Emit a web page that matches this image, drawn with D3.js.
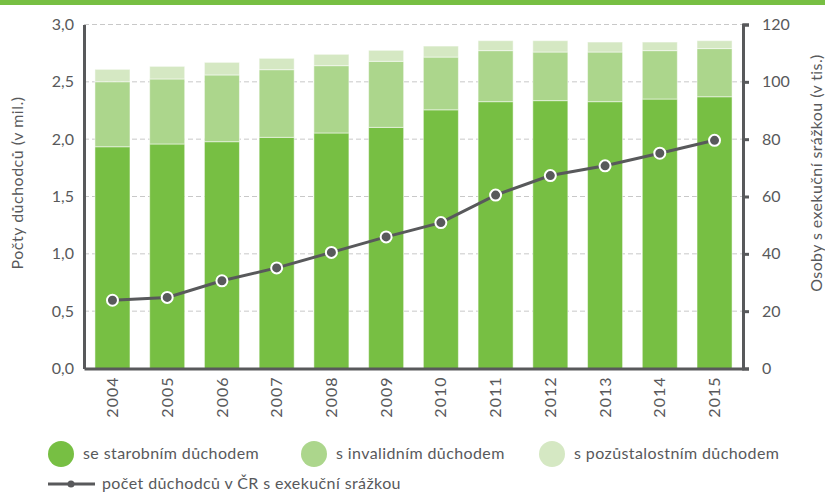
<!DOCTYPE html>
<html>
<head>
<meta charset="utf-8">
<script src="https://cdn.jsdelivr.net/npm/d3@7"></script>
<style>
  body { margin: 0; background: #fff; }
  text { font-family: "Lato", sans-serif; fill: #58595b; }
</style>
</head>
<body>
<div id="chart"></div>
<script>
const years = [2004, 2005, 2006, 2007, 2008, 2009, 2010, 2011, 2012, 2013, 2014, 2015];
// millions of pensioners by type
const starobni = [1.934, 1.958, 1.978, 2.016, 2.054, 2.103, 2.256, 2.327, 2.336, 2.327, 2.350, 2.370];
const invalidni = [0.567, 0.567, 0.582, 0.590, 0.587, 0.576, 0.460, 0.445, 0.424, 0.433, 0.422, 0.420];
const pozustalostni = [0.108, 0.110, 0.110, 0.099, 0.099, 0.096, 0.096, 0.087, 0.099, 0.087, 0.075, 0.069];
// thousands with an execution deduction
const exekuce = [23.8, 24.8, 30.6, 35.1, 40.5, 45.9, 50.9, 60.5, 67.3, 70.7, 75.1, 79.6];

const leftTicks = [0, 0.5, 1, 1.5, 2, 2.5, 3];
const rightTicks = [0, 20, 40, 60, 80, 100, 120];

const seriesNames = ["se starobním důchodem", "s invalidním důchodem", "s pozůstalostním důchodem"];
const lineName = "počet důchodců v ČR s exekuční srážkou";
const colors = ["#77bf43", "#acd68c", "#d5e8c3"];
const grey = "#58595b";

const W = 825, H = 493;
const plotL = 84, plotR = 743, plotT = 24.5, plotB = 368.5;

const svg = d3.select("#chart").append("svg")
    .attr("width", W).attr("height", H);

// top band
svg.append("rect").attr("x", 0).attr("y", 0).attr("width", W).attr("height", 5)
    .attr("fill", "#77bf43");

const x = d3.scaleBand().domain(years).range([plotL, plotR])
    .paddingInner(0.36).paddingOuter(0.2);
const y = d3.scaleLinear().domain([0, 3]).range([plotB, plotT]);
const y2 = d3.scaleLinear().domain([0, 120]).range([plotB, plotT]);

// grid
svg.append("g").selectAll("line").data(leftTicks.slice(1)).enter().append("line")
    .attr("x1", plotL).attr("x2", plotR)
    .attr("y1", d => y(d)).attr("y2", d => y(d))
    .attr("stroke", "#c8c8c8").attr("stroke-width", 1)
    .attr("stroke-dasharray", "5,3");

// stacked bars
const table = years.map((yr, i) => ({year: yr, a: starobni[i], b: invalidni[i], c: pozustalostni[i]}));
const stack = d3.stack().keys(["a", "b", "c"])(table);

svg.append("g").selectAll("g").data(stack).enter().append("g")
    .attr("fill", (d, i) => colors[i])
  .selectAll("rect").data(d => d).enter().append("rect")
    .attr("x", d => x(d.data.year))
    .attr("width", x.bandwidth())
    .attr("y", d => y(d[1]))
    .attr("height", d => y(d[0]) - y(d[1]))
    .attr("stroke", "#fff").attr("stroke-opacity", 0.5).attr("stroke-width", 1);

// left axis
const axL = svg.append("g").attr("transform", "translate(" + plotL + ",0)")
    .call(d3.axisLeft(y).tickValues(leftTicks).tickSize(0).tickPadding(10)
      .tickFormat(d => d3.format(".1f")(d).replace(".", ",")));
axL.select(".domain").attr("stroke", grey).attr("stroke-width", 3);
axL.selectAll("text").style("font-size", "16px").attr("fill", grey);

// right axis
const axR = svg.append("g").attr("transform", "translate(" + plotR + ",0)")
    .call(d3.axisRight(y2).tickValues(rightTicks).tickSize(6).tickSizeOuter(6).tickPadding(13));
axR.select(".domain").attr("stroke", grey).attr("stroke-width", 3);
axR.selectAll(".tick line").attr("stroke", grey).attr("stroke-width", 3);
axR.selectAll("text").style("font-size", "16px").attr("fill", grey);

// bottom axis
const axB = svg.append("g").attr("transform", "translate(0," + plotB + ")")
    .call(d3.axisBottom(x).tickSize(0).tickSizeOuter(0));
axB.select(".domain").attr("stroke", grey).attr("stroke-width", 3);
axB.selectAll("text")
    .style("font-size", "16px").style("letter-spacing", "1px").attr("fill", grey)
    .attr("text-anchor", "end")
    .attr("dy", "0.35em")
    .attr("transform", "translate(0,8) rotate(-90)")
    .attr("x", 0).attr("y", 0);

// line
const line = d3.line().x((d, i) => x(years[i]) + x.bandwidth() / 2).y(d => y2(d));
svg.append("path").datum(exekuce).attr("d", line)
    .attr("fill", "none").attr("stroke", grey).attr("stroke-width", 3);
svg.append("g").selectAll("circle").data(exekuce).enter().append("circle")
    .attr("cx", (d, i) => x(years[i]) + x.bandwidth() / 2)
    .attr("cy", d => y2(d))
    .attr("r", 5.5)
    .attr("fill", grey).attr("stroke", "#fff").attr("stroke-width", 2);

// axis titles
svg.append("text")
    .attr("transform", "translate(23,183) rotate(-90)")
    .attr("text-anchor", "middle")
    .style("font-size", "16px").style("letter-spacing", "0.5px")
    .text("Počty důchodců (v mil.)");
svg.append("text")
    .attr("transform", "translate(822,173) rotate(-90)")
    .attr("text-anchor", "middle")
    .style("font-size", "16px").style("letter-spacing", "0.4px")
    .text("Osoby s exekuční srážkou (v tis.)");

// legend
const legX = [61, 314, 552];
const leg = svg.append("g");
seriesNames.forEach((name, i) => {
  leg.append("circle").attr("cx", legX[i]).attr("cy", 454).attr("r", 13).attr("fill", colors[i]);
  leg.append("text").attr("x", legX[i] + 22).attr("y", 459)
      .style("font-size", "16px").style("letter-spacing", "0.4px").text(name);
});
leg.append("line").attr("x1", 48).attr("x2", 95).attr("y1", 484).attr("y2", 484)
    .attr("stroke", grey).attr("stroke-width", 3);
leg.append("circle").attr("cx", 71).attr("cy", 484).attr("r", 3.5).attr("fill", grey);
leg.append("text").attr("x", 102).attr("y", 489)
    .style("font-size", "16px").style("letter-spacing", "0.4px").text(lineName);
</script>
</body>
</html>
